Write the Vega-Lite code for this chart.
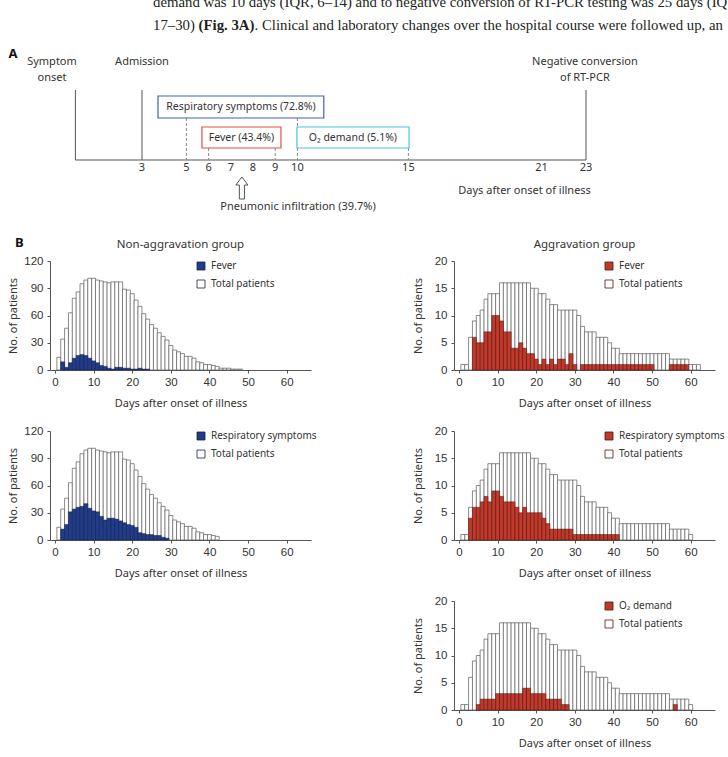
{
  "$schema": "https://vega.github.io/schema/vega-lite/v6.json",
  "padding": {"left": 7, "top": -10, "right": 0, "bottom": 0},
  "background": "white",
  "spacing": 12,
  "config": {
    "view": {"stroke": null},
    "axis": {"domainColor": "#555", "domainWidth": 1, "tickColor": "#555", "tickSize": 3, "labelFont": "Liberation Sans", "labelFontSize": 11.5, "labelColor": "#333", "titleFont": "Noto Sans", "titleFontSize": 11, "titleFontWeight": "normal", "titleColor": "#333", "grid": false, "labelFlush": false, "labelOverlap": false},
    "axisX": {"labelPadding": 3, "titlePadding": 9.5},
    "axisY": {"labelPadding": 4, "titlePadding": 5, "minExtent": 26}
  },
  "resolve": {"scale": {"fill": "independent", "stroke": "independent"}, "legend": {"fill": "independent", "stroke": "independent"}},
  "datasets": {
    "tl_v": [{"day": 0, "y": 7, "y2": 0}, {"day": 3, "y": 7, "y2": 0}, {"day": 23, "y": 7, "y2": 0}],
    "tl_base": [{"day": 0, "day2": 23, "y": 0}],
    "tl_dash": [{"day": 5, "y": 4.2, "y2": 0}, {"day": 10, "y": 4.2, "y2": 0}, {"day": 6, "y": 1.2, "y2": 0}, {"day": 9, "y": 1.2, "y2": 0}, {"day": 15, "y": 1.2, "y2": 0}],
    "tl_box": [
      {"label": "Respiratory symptoms (72.8%)", "day": 3.72, "day2": 11.19, "y": 6.4, "y2": 4.2},
      {"label": "Fever (43.4%)", "day": 5.7, "day2": 9.26, "y": 3.3, "y2": 1.2},
      {"label": "O₂ demand (5.1%)", "day": 9.98, "day2": 15.03, "y": 3.3, "y2": 1.2}
    ],
    "tl_boxlab": [
      {"label": "Respiratory symptoms (72.8%)", "day": 7.46, "y": 5.3},
      {"label": "Fever (43.4%)", "day": 7.48, "y": 2.25},
      {"label": "O₂ demand (5.1%)", "day": 12.5, "y": 2.25}
    ],
    "tl_lab": [
      {"label": "Symptom", "day": -1.054, "y": 9.8},
      {"label": "onset", "day": -1.054, "y": 8.2},
      {"label": "Admission", "day": 3, "y": 9.8},
      {"label": "Negative conversion", "day": 22.95, "y": 9.8},
      {"label": "of RT-PCR", "day": 22.95, "y": 8.2},
      {"label": "Pneumonic infiltration (39.7%)", "day": 10.03, "y": -4.7},
      {"label": "3", "day": 3, "y": -0.8},
      {"label": "5", "day": 5, "y": -0.8},
      {"label": "6", "day": 6, "y": -0.8},
      {"label": "7", "day": 7, "y": -0.8},
      {"label": "8", "day": 8, "y": -0.8},
      {"label": "9", "day": 9, "y": -0.8},
      {"label": "10", "day": 10, "y": -0.8},
      {"label": "15", "day": 15, "y": -0.8},
      {"label": "21", "day": 21, "y": -0.8},
      {"label": "23", "day": 23, "y": -0.8}
    ],
    "tl_xt": [{"label": "Days after onset of illness", "day": 23.22, "y": -3.1}],
    "tl_A": [{"label": "A", "day": -2.81, "y": 10.6}],
    "tl_arrow": [{"day": 7.5, "y": -2.8}],
    "para": [
      {"label": "demand was 10 days (IQR, 6–14) and to negative conversion of RT-PCR testing was 25 days (IQR,", "day": 3.495, "y": 15.3},
      {"label": "17–30)", "day": 3.495, "y": 13.05}
    ],
    "para_b": [{"label": "(Fig. 3A)", "day": 5.549, "y": 13.05}],
    "para_c": [{"label": ". Clinical and laboratory changes over the hospital course were followed up, and", "day": 8.068, "y": 13.05}],
    "na_fever": [
      {"day": 1, "total": 14, "fever": null}, {"day": 2, "total": 34, "fever": 9}, {"day": 3, "total": 46, "fever": 3}, {"day": 4, "total": 63, "fever": 8}, {"day": 5, "total": 79, "fever": 13}, {"day": 6, "total": 86, "fever": 16}, {"day": 7, "total": 95, "fever": 17}, {"day": 8, "total": 99, "fever": 16}, {"day": 9, "total": 101, "fever": 13}, {"day": 10, "total": 101, "fever": 10},
      {"day": 11, "total": 99, "fever": 8}, {"day": 12, "total": 98, "fever": 5}, {"day": 13, "total": 97, "fever": 4}, {"day": 14, "total": 96, "fever": 2}, {"day": 15, "total": 97, "fever": 1}, {"day": 16, "total": 97, "fever": 3}, {"day": 17, "total": 97, "fever": 3}, {"day": 18, "total": 89, "fever": 2}, {"day": 19, "total": 88, "fever": 2}, {"day": 20, "total": 84, "fever": 1},
      {"day": 21, "total": 77, "fever": 1}, {"day": 22, "total": 70, "fever": 2}, {"day": 23, "total": 62, "fever": 1}, {"day": 24, "total": 56, "fever": 1}, {"day": 25, "total": 50, "fever": null}, {"day": 26, "total": 46, "fever": null}, {"day": 27, "total": 41, "fever": null}, {"day": 28, "total": 37, "fever": null}, {"day": 29, "total": 33, "fever": null}, {"day": 30, "total": 27, "fever": null},
      {"day": 31, "total": 22, "fever": null}, {"day": 32, "total": 20, "fever": null}, {"day": 33, "total": 18, "fever": null}, {"day": 34, "total": 15, "fever": null}, {"day": 35, "total": 15, "fever": null}, {"day": 36, "total": 13, "fever": null}, {"day": 37, "total": 9, "fever": null}, {"day": 38, "total": 8, "fever": null}, {"day": 39, "total": 6, "fever": null}, {"day": 40, "total": 6, "fever": null},
      {"day": 41, "total": 5, "fever": null}, {"day": 42, "total": 4, "fever": null}, {"day": 43, "total": 2, "fever": null}, {"day": 44, "total": 2, "fever": null}, {"day": 45, "total": 2, "fever": null}, {"day": 46, "total": 1, "fever": null}, {"day": 47, "total": 1, "fever": null}, {"day": 48, "total": 1, "fever": null}
    ],
    "na_resp": [
      {"day": 1, "total": 14, "resp": null}, {"day": 2, "total": 34, "resp": 12}, {"day": 3, "total": 46, "resp": 17}, {"day": 4, "total": 63, "resp": 31}, {"day": 5, "total": 79, "resp": 34}, {"day": 6, "total": 86, "resp": 36}, {"day": 7, "total": 95, "resp": 37}, {"day": 8, "total": 99, "resp": 40}, {"day": 9, "total": 101, "resp": 35}, {"day": 10, "total": 101, "resp": 32},
      {"day": 11, "total": 99, "resp": 31}, {"day": 12, "total": 98, "resp": 26}, {"day": 13, "total": 97, "resp": 22}, {"day": 14, "total": 96, "resp": 24}, {"day": 15, "total": 97, "resp": 24}, {"day": 16, "total": 97, "resp": 23}, {"day": 17, "total": 97, "resp": 21}, {"day": 18, "total": 89, "resp": 19}, {"day": 19, "total": 88, "resp": 17}, {"day": 20, "total": 84, "resp": 16},
      {"day": 21, "total": 77, "resp": 14}, {"day": 22, "total": 70, "resp": 8}, {"day": 23, "total": 62, "resp": 7}, {"day": 24, "total": 56, "resp": 6}, {"day": 25, "total": 50, "resp": 6}, {"day": 26, "total": 46, "resp": 5}, {"day": 27, "total": 41, "resp": 5}, {"day": 28, "total": 37, "resp": 3}, {"day": 29, "total": 33, "resp": 2}, {"day": 30, "total": 27, "resp": null},
      {"day": 31, "total": 22, "resp": null}, {"day": 32, "total": 20, "resp": null}, {"day": 33, "total": 18, "resp": null}, {"day": 34, "total": 15, "resp": null}, {"day": 35, "total": 15, "resp": null}, {"day": 36, "total": 13, "resp": null}, {"day": 37, "total": 9, "resp": null}, {"day": 38, "total": 8, "resp": null}, {"day": 39, "total": 6, "resp": null}, {"day": 40, "total": 6, "resp": null},
      {"day": 41, "total": 5, "resp": null}, {"day": 42, "total": 4, "resp": null}
    ],
    "ag_fever": [
      {"day": 1, "total": 1, "fever": null}, {"day": 2, "total": 1, "fever": null}, {"day": 3, "total": 6, "fever": null}, {"day": 4, "total": 9, "fever": 6}, {"day": 5, "total": 10, "fever": 5}, {"day": 6, "total": 11, "fever": 5}, {"day": 7, "total": 13, "fever": 7}, {"day": 8, "total": 14, "fever": 7}, {"day": 9, "total": 14, "fever": 10}, {"day": 10, "total": 14, "fever": 10},
      {"day": 11, "total": 16, "fever": 9}, {"day": 12, "total": 16, "fever": 7}, {"day": 13, "total": 16, "fever": 7}, {"day": 14, "total": 16, "fever": 4}, {"day": 15, "total": 16, "fever": 4}, {"day": 16, "total": 16, "fever": 5}, {"day": 17, "total": 16, "fever": 4}, {"day": 18, "total": 16, "fever": 3}, {"day": 19, "total": 15, "fever": 3}, {"day": 20, "total": 15, "fever": 2},
      {"day": 21, "total": 14, "fever": 1}, {"day": 22, "total": 14, "fever": 2}, {"day": 23, "total": 13, "fever": 1}, {"day": 24, "total": 12, "fever": 2}, {"day": 25, "total": 12, "fever": 1}, {"day": 26, "total": 11, "fever": 2}, {"day": 27, "total": 11, "fever": 2}, {"day": 28, "total": 11, "fever": 1}, {"day": 29, "total": 11, "fever": 3}, {"day": 30, "total": 11, "fever": 1},
      {"day": 31, "total": 10, "fever": null}, {"day": 32, "total": 8, "fever": 1}, {"day": 33, "total": 7, "fever": 1}, {"day": 34, "total": 7, "fever": 1}, {"day": 35, "total": 7, "fever": 1}, {"day": 36, "total": 6, "fever": 1}, {"day": 37, "total": 6, "fever": 1}, {"day": 38, "total": 6, "fever": 1}, {"day": 39, "total": 5, "fever": 1}, {"day": 40, "total": 4, "fever": 1},
      {"day": 41, "total": 4, "fever": 1}, {"day": 42, "total": 3, "fever": 1}, {"day": 43, "total": 3, "fever": 1}, {"day": 44, "total": 3, "fever": 1}, {"day": 45, "total": 3, "fever": 1}, {"day": 46, "total": 3, "fever": 1}, {"day": 47, "total": 3, "fever": 1}, {"day": 48, "total": 3, "fever": 1}, {"day": 49, "total": 3, "fever": 1}, {"day": 50, "total": 3, "fever": 1},
      {"day": 51, "total": 3, "fever": null}, {"day": 52, "total": 3, "fever": null}, {"day": 53, "total": 3, "fever": null}, {"day": 54, "total": 3, "fever": null}, {"day": 55, "total": 2, "fever": 1}, {"day": 56, "total": 2, "fever": 1}, {"day": 57, "total": 2, "fever": 1}, {"day": 58, "total": 2, "fever": 1}, {"day": 59, "total": 2, "fever": 1}, {"day": 60, "total": 1, "fever": null},
      {"day": 61, "total": 1, "fever": null}, {"day": 62, "total": 1, "fever": null}
    ],
    "ag_resp": [
      {"day": 1, "total": 1, "resp": null, "o2": null}, {"day": 2, "total": 1, "resp": null, "o2": null}, {"day": 3, "total": 6, "resp": 4, "o2": null}, {"day": 4, "total": 9, "resp": 6, "o2": null}, {"day": 5, "total": 10, "resp": 6, "o2": 1}, {"day": 6, "total": 11, "resp": 7, "o2": 2}, {"day": 7, "total": 13, "resp": 8, "o2": 2}, {"day": 8, "total": 14, "resp": 7, "o2": 2}, {"day": 9, "total": 14, "resp": 9, "o2": 2}, {"day": 10, "total": 14, "resp": 9, "o2": 3},
      {"day": 11, "total": 16, "resp": 8, "o2": 3}, {"day": 12, "total": 16, "resp": 7, "o2": 3}, {"day": 13, "total": 16, "resp": 7, "o2": 3}, {"day": 14, "total": 16, "resp": 7, "o2": 3}, {"day": 15, "total": 16, "resp": 6, "o2": 3}, {"day": 16, "total": 16, "resp": 5, "o2": 3}, {"day": 17, "total": 16, "resp": 6, "o2": 4}, {"day": 18, "total": 16, "resp": 5, "o2": 4}, {"day": 19, "total": 15, "resp": 5, "o2": 3}, {"day": 20, "total": 15, "resp": 5, "o2": 3},
      {"day": 21, "total": 14, "resp": 5, "o2": 3}, {"day": 22, "total": 14, "resp": 4, "o2": 3}, {"day": 23, "total": 13, "resp": 3, "o2": 2}, {"day": 24, "total": 12, "resp": 2, "o2": 2}, {"day": 25, "total": 12, "resp": 2, "o2": 2}, {"day": 26, "total": 11, "resp": 2, "o2": 2}, {"day": 27, "total": 11, "resp": 2, "o2": 1}, {"day": 28, "total": 11, "resp": 2, "o2": 1}, {"day": 29, "total": 11, "resp": 2, "o2": null}, {"day": 30, "total": 11, "resp": 1, "o2": null},
      {"day": 31, "total": 10, "resp": 1, "o2": null}, {"day": 32, "total": 8, "resp": 1, "o2": null}, {"day": 33, "total": 7, "resp": 1, "o2": null}, {"day": 34, "total": 7, "resp": 1, "o2": null}, {"day": 35, "total": 7, "resp": 1, "o2": null}, {"day": 36, "total": 6, "resp": 1, "o2": null}, {"day": 37, "total": 6, "resp": 1, "o2": null}, {"day": 38, "total": 6, "resp": 1, "o2": null}, {"day": 39, "total": 5, "resp": 1, "o2": null}, {"day": 40, "total": 4, "resp": 1, "o2": null},
      {"day": 41, "total": 4, "resp": 1, "o2": null}, {"day": 42, "total": 3, "resp": null, "o2": null}, {"day": 43, "total": 3, "resp": null, "o2": null}, {"day": 44, "total": 3, "resp": null, "o2": null}, {"day": 45, "total": 3, "resp": null, "o2": null}, {"day": 46, "total": 3, "resp": null, "o2": null}, {"day": 47, "total": 3, "resp": null, "o2": null}, {"day": 48, "total": 3, "resp": null, "o2": null}, {"day": 49, "total": 3, "resp": null, "o2": null}, {"day": 50, "total": 3, "resp": null, "o2": null},
      {"day": 51, "total": 3, "resp": null, "o2": null}, {"day": 52, "total": 3, "resp": null, "o2": null}, {"day": 53, "total": 3, "resp": null, "o2": null}, {"day": 54, "total": 3, "resp": null, "o2": null}, {"day": 55, "total": 2, "resp": null, "o2": null}, {"day": 56, "total": 2, "resp": null, "o2": 1}, {"day": 57, "total": 2, "resp": null, "o2": null}, {"day": 58, "total": 2, "resp": null, "o2": null}, {"day": 59, "total": 2, "resp": null, "o2": null}, {"day": 60, "total": 1, "resp": null, "o2": null}
    ]
  },
  "vconcat": [
    {
      "width": 660,
      "height": 235,
      "layer": [
        {"data": {"name": "tl_v"}, "mark": {"type": "rule", "color": "#555", "strokeWidth": 1},
         "encoding": {"x": {"field": "day", "type": "quantitative", "scale": {"domain": [-1.1441, 28.5856], "nice": false, "zero": false}, "axis": null}, "y": {"field": "y", "type": "quantitative", "scale": {"domain": [-6.5, 17], "nice": false, "zero": false}, "axis": null}, "y2": {"field": "y2"}}},
        {"data": {"name": "tl_base"}, "mark": {"type": "rule", "color": "#555", "strokeWidth": 1.2},
         "encoding": {"x": {"field": "day", "type": "quantitative", "scale": {"domain": [-1.1441, 28.5856], "nice": false, "zero": false}, "axis": null}, "x2": {"field": "day2"}, "y": {"field": "y", "type": "quantitative", "scale": {"domain": [-6.5, 17], "nice": false, "zero": false}, "axis": null}}},
        {"data": {"name": "tl_dash"}, "mark": {"type": "rule", "color": "#888", "strokeWidth": 1, "strokeDash": [3, 2]},
         "encoding": {"x": {"field": "day", "type": "quantitative", "scale": {"domain": [-1.1441, 28.5856], "nice": false, "zero": false}, "axis": null}, "y": {"field": "y", "type": "quantitative", "scale": {"domain": [-6.5, 17], "nice": false, "zero": false}, "axis": null}, "y2": {"field": "y2"}}},
        {"data": {"name": "tl_box"}, "mark": {"type": "rect", "fill": "white", "strokeWidth": 1.2},
         "encoding": {"x": {"field": "day", "type": "quantitative", "scale": {"domain": [-1.1441, 28.5856], "nice": false, "zero": false}, "axis": null}, "x2": {"field": "day2"}, "y": {"field": "y", "type": "quantitative", "scale": {"domain": [-6.5, 17], "nice": false, "zero": false}, "axis": null}, "y2": {"field": "y2"},
           "stroke": {"field": "label", "type": "nominal", "scale": {"domain": ["Respiratory symptoms (72.8%)", "Fever (43.4%)", "O₂ demand (5.1%)"], "range": ["#4262ad", "#e2504a", "#4cc3e4"]}, "legend": null}}},
        {"data": {"name": "tl_boxlab"}, "mark": {"type": "text", "font": "Noto Sans", "fontSize": 10.5, "color": "#333", "align": "center", "baseline": "middle"},
         "encoding": {"x": {"field": "day", "type": "quantitative", "scale": {"domain": [-1.1441, 28.5856], "nice": false, "zero": false}, "axis": null}, "y": {"field": "y", "type": "quantitative", "scale": {"domain": [-6.5, 17], "nice": false, "zero": false}, "axis": null}, "text": {"field": "label"}}},
        {"data": {"name": "tl_lab"}, "mark": {"type": "text", "font": "Noto Sans", "fontSize": 11, "color": "#333", "align": "center", "baseline": "middle"},
         "encoding": {"x": {"field": "day", "type": "quantitative", "scale": {"domain": [-1.1441, 28.5856], "nice": false, "zero": false}, "axis": null}, "y": {"field": "y", "type": "quantitative", "scale": {"domain": [-6.5, 17], "nice": false, "zero": false}, "axis": null}, "text": {"field": "label"}}},
        {"data": {"name": "tl_xt"}, "mark": {"type": "text", "font": "Noto Sans", "fontSize": 11, "color": "#333", "align": "right", "baseline": "middle"},
         "encoding": {"x": {"field": "day", "type": "quantitative", "scale": {"domain": [-1.1441, 28.5856], "nice": false, "zero": false}, "axis": null}, "y": {"field": "y", "type": "quantitative", "scale": {"domain": [-6.5, 17], "nice": false, "zero": false}, "axis": null}, "text": {"field": "label"}}},
        {"data": {"name": "tl_A"}, "mark": {"type": "text", "font": "Noto Sans", "fontSize": 13, "fontWeight": "bold", "color": "#111", "align": "center", "baseline": "middle"},
         "encoding": {"x": {"field": "day", "type": "quantitative", "scale": {"domain": [-1.1441, 28.5856], "nice": false, "zero": false}, "axis": null}, "y": {"field": "y", "type": "quantitative", "scale": {"domain": [-6.5, 17], "nice": false, "zero": false}, "axis": null}, "text": {"field": "label"}}},
        {"data": {"name": "tl_arrow"}, "mark": {"type": "point", "shape": "M0,-1L0.55,-0.27L0.23,-0.27L0.23,1L-0.23,1L-0.23,-0.27L-0.55,-0.27Z", "size": 484, "filled": true, "fill": "white", "stroke": "#555", "strokeWidth": 1, "opacity": 1},
         "encoding": {"x": {"field": "day", "type": "quantitative", "scale": {"domain": [-1.1441, 28.5856], "nice": false, "zero": false}, "axis": null}, "y": {"field": "y", "type": "quantitative", "scale": {"domain": [-6.5, 17], "nice": false, "zero": false}, "axis": null}}},
        {"data": {"name": "para"}, "mark": {"type": "text", "font": "Liberation Serif", "fontSize": 14.8, "color": "#231f20", "align": "left", "baseline": "alphabetic", "limit": 575, "ellipsis": "\u200b"},
         "encoding": {"x": {"field": "day", "type": "quantitative", "scale": {"domain": [-1.1441, 28.5856], "nice": false, "zero": false}, "axis": null}, "y": {"field": "y", "type": "quantitative", "scale": {"domain": [-6.5, 17], "nice": false, "zero": false}, "axis": null}, "text": {"field": "label"}}},
        {"data": {"name": "para_b"}, "mark": {"type": "text", "font": "Liberation Serif", "fontSize": 14.8, "fontWeight": "bold", "color": "#231f20", "align": "left", "baseline": "alphabetic"},
         "encoding": {"x": {"field": "day", "type": "quantitative", "scale": {"domain": [-1.1441, 28.5856], "nice": false, "zero": false}, "axis": null}, "y": {"field": "y", "type": "quantitative", "scale": {"domain": [-6.5, 17], "nice": false, "zero": false}, "axis": null}, "text": {"field": "label"}}},
        {"data": {"name": "para_c"}, "mark": {"type": "text", "font": "Liberation Serif", "fontSize": 14.8, "color": "#231f20", "align": "left", "baseline": "alphabetic", "limit": 474, "ellipsis": "\u200b"},
         "encoding": {"x": {"field": "day", "type": "quantitative", "scale": {"domain": [-1.1441, 28.5856], "nice": false, "zero": false}, "axis": null}, "y": {"field": "y", "type": "quantitative", "scale": {"domain": [-6.5, 17], "nice": false, "zero": false}, "axis": null}, "text": {"field": "label"}}}
      ]
    },
    {
      "columns": 2,
      "spacing": {"row": 17, "column": 95},
      "align": "each",
      "resolve": {"scale": {"fill": "independent"}, "legend": {"fill": "independent"}},
      "concat": [
        {
          "width": 261, "height": 109,
          "data": {"name": "na_fever"},
          "layer": [
            {"mark": {"type": "bar", "width": 4, "stroke": "#5a5a5a", "strokeWidth": 0.7},
             "encoding": {
               "x": {"field": "day", "type": "quantitative", "scale": {"domain": [0, 65], "nice": false, "zero": false}, "axis": {"values": [0, 10, 20, 30, 40, 50, 60], "title": "Days after onset of illness"}},
               "y": {"field": "total", "type": "quantitative", "scale": {"domain": [0, 120], "nice": false}, "axis": {"values": [0, 30, 60, 90, 120], "title": "No. of patients"}},
               "fill": {"datum": "Total patients", "type": "nominal", "scale": {"domain": ["Fever", "Total patients"], "range": ["#1f3d8a", "#ffffff"]}, "legend": {"orient": "none", "legendX": 146, "legendY": 0, "title": null, "symbolType": "square", "symbolSize": 64, "symbolStrokeColor": "#444", "symbolStrokeWidth": 0.8, "labelFont": "Noto Sans", "labelFontSize": 10, "labelColor": "#333", "labelOffset": 5, "rowPadding": 6, "padding": 0}}}},
            {"transform": [{"filter": {"field": "fever", "valid": true}}],
             "mark": {"type": "bar", "width": 4, "stroke": "#1a2040", "strokeWidth": 0.5},
             "encoding": {
               "x": {"field": "day", "type": "quantitative", "scale": {"domain": [0, 65], "nice": false, "zero": false}, "axis": {"values": [0, 10, 20, 30, 40, 50, 60], "title": "Days after onset of illness"}},
               "y": {"field": "fever", "type": "quantitative", "scale": {"domain": [0, 120], "nice": false}, "axis": {"values": [0, 30, 60, 90, 120], "title": "No. of patients"}},
               "fill": {"datum": "Fever", "type": "nominal"}}},
            {"data": {"values": [{"day": -9.22, "y": 139.8, "label": "B"}]},
             "mark": {"type": "text", "font": "Noto Sans", "fontSize": 13, "fontWeight": "bold", "color": "#111", "align": "center", "baseline": "middle"},
             "encoding": {
               "x": {"field": "day", "type": "quantitative", "scale": {"domain": [0, 65], "nice": false, "zero": false}, "axis": {"values": [0, 10, 20, 30, 40, 50, 60], "title": "Days after onset of illness"}},
               "y": {"field": "y", "type": "quantitative", "scale": {"domain": [0, 120], "nice": false}, "axis": {"values": [0, 30, 60, 90, 120], "title": "No. of patients"}},
               "text": {"field": "label"}}},
            {"data": {"values": [{"day": 32.5, "y": 137.6, "label": "Non-aggravation group"}]},
             "mark": {"type": "text", "font": "Noto Sans", "fontSize": 11.5, "color": "#333", "align": "center", "baseline": "middle"},
             "encoding": {
               "x": {"field": "day", "type": "quantitative", "scale": {"domain": [0, 65], "nice": false, "zero": false}, "axis": {"values": [0, 10, 20, 30, 40, 50, 60], "title": "Days after onset of illness"}},
               "y": {"field": "y", "type": "quantitative", "scale": {"domain": [0, 120], "nice": false}, "axis": {"values": [0, 30, 60, 90, 120], "title": "No. of patients"}},
               "text": {"field": "label"}}}
          ]
        },
        {
          "width": 261, "height": 109,
          "data": {"name": "ag_fever"},
          "layer": [
            {"mark": {"type": "bar", "width": 4, "stroke": "#5a5a5a", "strokeWidth": 0.7},
             "encoding": {
               "x": {"field": "day", "type": "quantitative", "scale": {"domain": [0, 65], "nice": false, "zero": false}, "axis": {"values": [0, 10, 20, 30, 40, 50, 60], "title": "Days after onset of illness"}},
               "y": {"field": "total", "type": "quantitative", "scale": {"domain": [0, 20], "nice": false}, "axis": {"values": [0, 5, 10, 15, 20], "title": "No. of patients"}},
               "fill": {"datum": "Total patients", "type": "nominal", "scale": {"domain": ["Fever", "Total patients"], "range": ["#c1392b", "#ffffff"]}, "legend": {"orient": "none", "legendX": 150, "legendY": 0, "title": null, "symbolType": "square", "symbolSize": 64, "symbolStrokeColor": "#444", "symbolStrokeWidth": 0.8, "labelFont": "Noto Sans", "labelFontSize": 10, "labelColor": "#333", "labelOffset": 5, "rowPadding": 6, "padding": 0}}}},
            {"transform": [{"filter": {"field": "fever", "valid": true}}],
             "mark": {"type": "bar", "width": 4, "stroke": "#4a1410", "strokeWidth": 0.5},
             "encoding": {
               "x": {"field": "day", "type": "quantitative", "scale": {"domain": [0, 65], "nice": false, "zero": false}, "axis": {"values": [0, 10, 20, 30, 40, 50, 60], "title": "Days after onset of illness"}},
               "y": {"field": "fever", "type": "quantitative", "scale": {"domain": [0, 20], "nice": false}, "axis": {"values": [0, 5, 10, 15, 20], "title": "No. of patients"}},
               "fill": {"datum": "Fever", "type": "nominal"}}},
            {"data": {"values": [{"day": 32.5, "y": 22.94, "label": "Aggravation group"}]},
             "mark": {"type": "text", "font": "Noto Sans", "fontSize": 11.5, "color": "#333", "align": "center", "baseline": "middle"},
             "encoding": {
               "x": {"field": "day", "type": "quantitative", "scale": {"domain": [0, 65], "nice": false, "zero": false}, "axis": {"values": [0, 10, 20, 30, 40, 50, 60], "title": "Days after onset of illness"}},
               "y": {"field": "y", "type": "quantitative", "scale": {"domain": [0, 20], "nice": false}, "axis": {"values": [0, 5, 10, 15, 20], "title": "No. of patients"}},
               "text": {"field": "label"}}}
          ]
        },
        {
          "width": 261, "height": 109,
          "data": {"name": "na_resp"},
          "layer": [
            {"mark": {"type": "bar", "width": 4, "stroke": "#5a5a5a", "strokeWidth": 0.7},
             "encoding": {
               "x": {"field": "day", "type": "quantitative", "scale": {"domain": [0, 65], "nice": false, "zero": false}, "axis": {"values": [0, 10, 20, 30, 40, 50, 60], "title": "Days after onset of illness"}},
               "y": {"field": "total", "type": "quantitative", "scale": {"domain": [0, 120], "nice": false}, "axis": {"values": [0, 30, 60, 90, 120], "title": "No. of patients"}},
               "fill": {"datum": "Total patients", "type": "nominal", "scale": {"domain": ["Respiratory symptoms", "Total patients"], "range": ["#1f3d8a", "#ffffff"]}, "legend": {"orient": "none", "legendX": 146, "legendY": 0, "title": null, "symbolType": "square", "symbolSize": 64, "symbolStrokeColor": "#444", "symbolStrokeWidth": 0.8, "labelFont": "Noto Sans", "labelFontSize": 10, "labelColor": "#333", "labelOffset": 5, "rowPadding": 6, "padding": 0}}}},
            {"transform": [{"filter": {"field": "resp", "valid": true}}],
             "mark": {"type": "bar", "width": 4, "stroke": "#1a2040", "strokeWidth": 0.5},
             "encoding": {
               "x": {"field": "day", "type": "quantitative", "scale": {"domain": [0, 65], "nice": false, "zero": false}, "axis": {"values": [0, 10, 20, 30, 40, 50, 60], "title": "Days after onset of illness"}},
               "y": {"field": "resp", "type": "quantitative", "scale": {"domain": [0, 120], "nice": false}, "axis": {"values": [0, 30, 60, 90, 120], "title": "No. of patients"}},
               "fill": {"datum": "Respiratory symptoms", "type": "nominal"}}}
          ]
        },
        {
          "width": 261, "height": 109,
          "data": {"name": "ag_resp"},
          "layer": [
            {"mark": {"type": "bar", "width": 4, "stroke": "#5a5a5a", "strokeWidth": 0.7},
             "encoding": {
               "x": {"field": "day", "type": "quantitative", "scale": {"domain": [0, 65], "nice": false, "zero": false}, "axis": {"values": [0, 10, 20, 30, 40, 50, 60], "title": "Days after onset of illness"}},
               "y": {"field": "total", "type": "quantitative", "scale": {"domain": [0, 20], "nice": false}, "axis": {"values": [0, 5, 10, 15, 20], "title": "No. of patients"}},
               "fill": {"datum": "Total patients", "type": "nominal", "scale": {"domain": ["Respiratory symptoms", "Total patients"], "range": ["#c1392b", "#ffffff"]}, "legend": {"orient": "none", "legendX": 150, "legendY": 0, "title": null, "symbolType": "square", "symbolSize": 64, "symbolStrokeColor": "#444", "symbolStrokeWidth": 0.8, "labelFont": "Noto Sans", "labelFontSize": 10, "labelColor": "#333", "labelOffset": 5, "rowPadding": 6, "padding": 0}}}},
            {"transform": [{"filter": {"field": "resp", "valid": true}}],
             "mark": {"type": "bar", "width": 4, "stroke": "#4a1410", "strokeWidth": 0.5},
             "encoding": {
               "x": {"field": "day", "type": "quantitative", "scale": {"domain": [0, 65], "nice": false, "zero": false}, "axis": {"values": [0, 10, 20, 30, 40, 50, 60], "title": "Days after onset of illness"}},
               "y": {"field": "resp", "type": "quantitative", "scale": {"domain": [0, 20], "nice": false}, "axis": {"values": [0, 5, 10, 15, 20], "title": "No. of patients"}},
               "fill": {"datum": "Respiratory symptoms", "type": "nominal"}}}
          ]
        },
        {
          "width": 261, "height": 109,
          "data": {"values": []},
          "mark": {"type": "point", "opacity": 0},
          "encoding": {}
        },
        {
          "width": 261, "height": 109,
          "data": {"name": "ag_resp"},
          "layer": [
            {"mark": {"type": "bar", "width": 4, "stroke": "#5a5a5a", "strokeWidth": 0.7},
             "encoding": {
               "x": {"field": "day", "type": "quantitative", "scale": {"domain": [0, 65], "nice": false, "zero": false}, "axis": {"values": [0, 10, 20, 30, 40, 50, 60], "title": "Days after onset of illness"}},
               "y": {"field": "total", "type": "quantitative", "scale": {"domain": [0, 20], "nice": false}, "axis": {"values": [0, 5, 10, 15, 20], "title": "No. of patients"}},
               "fill": {"datum": "Total patients", "type": "nominal", "scale": {"domain": ["O₂ demand", "Total patients"], "range": ["#c1392b", "#ffffff"]}, "legend": {"orient": "none", "legendX": 150, "legendY": 0, "title": null, "symbolType": "square", "symbolSize": 64, "symbolStrokeColor": "#444", "symbolStrokeWidth": 0.8, "labelFont": "Noto Sans", "labelFontSize": 10, "labelColor": "#333", "labelOffset": 5, "rowPadding": 6, "padding": 0}}}},
            {"transform": [{"filter": {"field": "o2", "valid": true}}],
             "mark": {"type": "bar", "width": 4, "stroke": "#4a1410", "strokeWidth": 0.5},
             "encoding": {
               "x": {"field": "day", "type": "quantitative", "scale": {"domain": [0, 65], "nice": false, "zero": false}, "axis": {"values": [0, 10, 20, 30, 40, 50, 60], "title": "Days after onset of illness"}},
               "y": {"field": "o2", "type": "quantitative", "scale": {"domain": [0, 20], "nice": false}, "axis": {"values": [0, 5, 10, 15, 20], "title": "No. of patients"}},
               "fill": {"datum": "O₂ demand", "type": "nominal"}}}
          ]
        }
      ]
    }
  ]
}
